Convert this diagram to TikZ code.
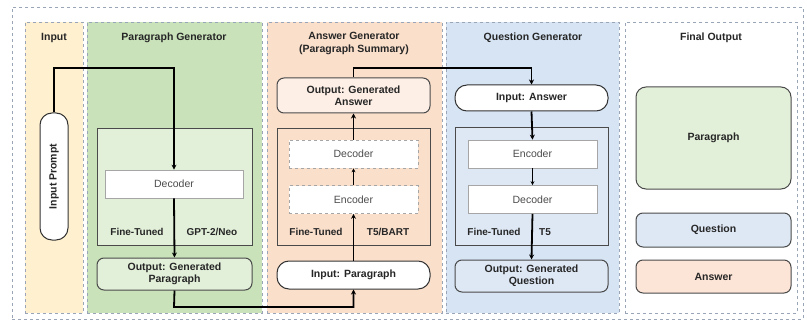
\documentclass[tikz,border=0pt]{standalone}
\usepackage{fontspec}
\setmainfont{Liberation Sans}
\usetikzlibrary{arrows.meta}
\definecolor{colyel}{HTML}{FFF1D0}
\definecolor{colgrn}{HTML}{C9E2BA}
\definecolor{colorg}{HTML}{FADFCB}
\definecolor{colblu}{HTML}{D6E4F4}
\definecolor{lgrn}{HTML}{E2F0D9}
\definecolor{lblu}{HTML}{DEE8F5}
\definecolor{lorg}{HTML}{FCE4D6}
\definecolor{bordr}{HTML}{9AA6B8}
\definecolor{dk}{HTML}{4A4A4A}
\tikzset{
  colbox/.style={draw=bordr, dashed, line width=0.6pt, anchor=north west, inner sep=0pt},
  inbox/.style={draw=dk, line width=1pt, anchor=north west, inner sep=0pt},
  rbox/.style={draw=dk, line width=1pt, rounded corners=7pt, align=center, inner sep=1pt, text=black!85, font=\bfseries\fontsize{10.5}{12}\selectfont},
  pill/.style={draw=black!80, line width=1pt, rounded corners=12pt, fill=white, align=center, inner sep=1pt, text=black!85, font=\bfseries\fontsize{10.5}{12}\selectfont},
  codec/.style={draw=gray!70, line width=0.7pt, fill=white, text=black!70, font=\fontsize{10.5}{12}\selectfont, inner sep=0pt},
  title/.style={font=\bfseries\fontsize{10.5}{13}\selectfont, align=center, text=black!85},
  ftlab/.style={font=\bfseries\fontsize{10}{12}\selectfont, text=black!85},
  arr/.style={line width=1.8pt, -{Stealth[length=5pt,width=5pt]}},
  tarr/.style={line width=0.7pt, -{Stealth[length=4pt,width=4pt]}},
}
\begin{document}
\begin{tikzpicture}[x=1pt,y=-1pt]
\useasboundingbox (0,0) rectangle (807,329);
\fill[white] (0,0) rectangle (807,329);
% outer
\node[colbox, minimum width=791, minimum height=312] (outer) at (12,7) {};
% columns
\node[colbox, fill=colyel, minimum width=58, minimum height=291] (colin) at (25,22) {};
\node[colbox, fill=colgrn, minimum width=175, minimum height=291] (colpg) at (87,22) {};
\node[colbox, fill=colorg, minimum width=175, minimum height=291] (colag) at (267,22) {};
\node[colbox, fill=colblu, minimum width=173, minimum height=291] (colqg) at (446,22) {};
\node[colbox, fill=white, minimum width=172, minimum height=291] (colfo) at (625,22) {};
% titles
\node[title] (tin) at (54,38) {Input};
\node[title] (tpg) at (174,38) {Paragraph Generator};
\node[title] (tag) at (354,43.5) {Answer Generator\\(Paragraph Summary)};
\node[title] (tqg) at (533,38) {Question Generator};
\node[title] (tfo) at (711,38) {Final Output};
% input prompt
\node[pill, rotate=90, minimum width=127, minimum height=28] (prompt) at (54,176.5) {Input Prompt};
% paragraph generator
\node[inbox, fill=lgrn, minimum width=155, minimum height=117] (pin) at (97,128) {};
\node[codec, minimum width=138, minimum height=28] (pdec) at (174,184) {Decoder};
\node[ftlab] (pft) at (137,232) {Fine-Tuned};
\node[ftlab] (pgpt) at (212,232) {GPT-2/Neo};
\node[rbox, fill=lgrn, minimum width=155, minimum height=32] (pout) at (174.5,274) {Output: Generated\\Paragraph};
% answer generator
\node[rbox, fill=lorg!60!white, minimum width=153, minimum height=35] (aout) at (353.5,95.5) {Output: Generated\\Answer};
\node[inbox, fill=colorg, minimum width=153, minimum height=117] (ain) at (277,128) {};
\node[codec, dashed, minimum width=129, minimum height=28] (adec) at (353.5,154) {Decoder};
\node[codec, dashed, minimum width=129, minimum height=28] (aenc) at (353.5,199.5) {Encoder};
\node[ftlab] (aft) at (316,232) {Fine-Tuned};
\node[ftlab] (at5) at (388,232) {T5/BART};
\node[pill, minimum width=153, minimum height=28] (ainp) at (353.5,275) {Input: Paragraph};
% question generator
\node[pill, minimum width=153, minimum height=26] (qinp) at (531.5,98) {Input: Answer};
\node[inbox, fill=lblu, minimum width=153, minimum height=118] (qin) at (455,127) {};
\node[codec, minimum width=129, minimum height=28] (qenc) at (532.5,154) {Encoder};
\node[codec, minimum width=129, minimum height=28] (qdec) at (532.5,199.5) {Decoder};
\node[ftlab] (qft) at (494,232) {Fine-Tuned};
\node[ftlab] (qt5) at (545,232) {T5};
\node[rbox, fill=lblu, minimum width=153, minimum height=32] (qout) at (531.5,276) {Output: Generated\\Question};
% final output
\node[rbox, rounded corners=10pt, fill=lgrn, minimum width=155, minimum height=102] (fpar) at (713.5,138) {Paragraph};
\node[rbox, fill=lblu, minimum width=155, minimum height=34] (fque) at (713.5,230) {Question};
\node[rbox, fill=lorg, minimum width=155, minimum height=33] (fans) at (713.5,276.5) {Answer};
% connectors
\coordinate (c1) at (174,68);
\coordinate (c2) at (174,307);
\coordinate (c3) at (353.5,68);
\draw[arr] (prompt.east) |- (c1) -- (pdec.north);
\draw[arr] (pdec.south) -- (pout.north);
\draw[arr] (pout.south) -- (c2) -| (ainp.south);
\draw[arr] (ainp.north) -- (aenc.south);
\draw[tarr] (aenc.north) -- (adec.south);
\draw[arr] (adec.north) -- (aout.south);
\draw[arr] (aout.north) -- (c3) -| (qinp.north);
\draw[arr] (qinp.south) -- (qenc.north);
\draw[tarr] (qenc.south) -- (qdec.north);
\draw[arr] (qdec.south) -- (qout.north);
\end{tikzpicture}
\end{document}
